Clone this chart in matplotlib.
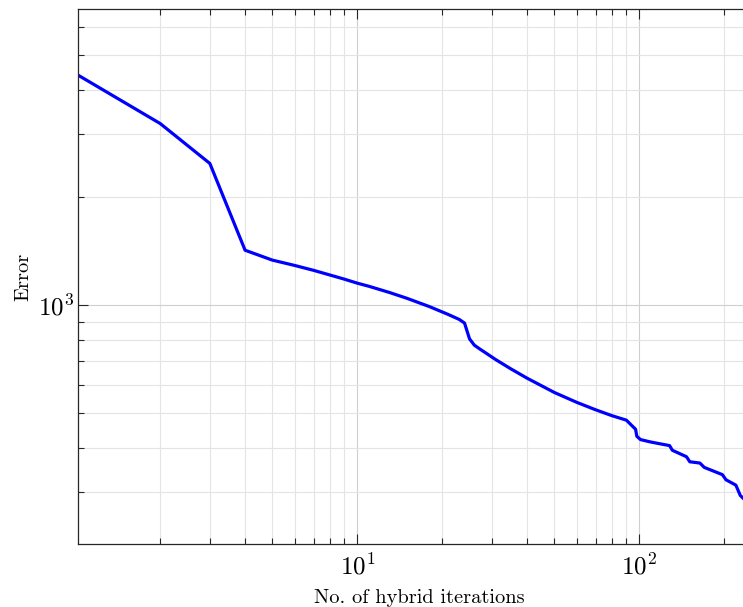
import matplotlib
matplotlib.use("Agg")
import matplotlib.pyplot as plt
from matplotlib.ticker import FixedLocator, FixedFormatter, NullFormatter, LogLocator

plt.rcParams['font.family'] = ['cmr10', 'DejaVu Serif']
plt.rcParams['mathtext.fontset'] = 'cm'
plt.rcParams['axes.unicode_minus'] = False
plt.rcParams['axes.formatter.use_mathtext'] = True

# data
iterations = [1, 2, 3, 4, 5, 6, 7, 8, 9, 10, 11, 13, 15, 18, 21, 23, 24, 25, 26, 27,
              31, 35, 40, 50, 60, 70, 80, 90, 94, 97, 98, 101, 109, 116, 128, 131,
              147, 151, 164, 170, 197, 203, 220, 228, 233]
error = [4440, 3218, 2489, 1424, 1336, 1291, 1251, 1214, 1182, 1152, 1129, 1085, 1045,
         991, 942, 912, 891, 805, 773, 757, 704, 664, 625, 570, 535, 510, 491, 477,
         461, 450, 430, 421, 415, 411, 405, 393, 377, 365, 362, 352, 336, 325, 314,
         294, 289]

x_ticks = [10, 100]
x_tick_labels = [r'$10^{1}$', r'$10^{2}$']
y_ticks = [1000]
y_tick_labels = [r'$10^{3}$']

W, H = 743, 607
fig = plt.figure(figsize=(W / 100, H / 100), dpi=100)
left, right, top, bottom = 78, 760, 9.3, 544.3
ax = fig.add_axes([left / W, 1 - bottom / H, (right - left) / W, (bottom - top) / H])

ax.plot(iterations, error, color=(0, 0, 1), lw=2.3, solid_joinstyle='round')
ax.set_xscale('log')
ax.set_yscale('log')
ax.set_xlim(1.0223, 267.9)
ax.set_ylim(214.6, 6712)

ax.xaxis.set_major_locator(FixedLocator(x_ticks))
ax.xaxis.set_major_formatter(FixedFormatter(x_tick_labels))
ax.yaxis.set_major_locator(FixedLocator(y_ticks))
ax.yaxis.set_major_formatter(FixedFormatter(y_tick_labels))
ax.xaxis.set_minor_locator(LogLocator(base=10, subs=range(2, 10), numticks=20))
ax.yaxis.set_minor_locator(LogLocator(base=10, subs=range(2, 10), numticks=20))
ax.xaxis.set_minor_formatter(NullFormatter())
ax.yaxis.set_minor_formatter(NullFormatter())

ax.grid(True, which='major', color='#cfcfcf', lw=0.8)
ax.grid(True, which='minor', color='#e4e4e4', lw=0.8)
ax.set_axisbelow(True)

for s in ax.spines.values():
    s.set_color('#262626')
    s.set_linewidth(0.9)
ax.tick_params(which='both', direction='in', top=True, right=True, colors='#262626',
               width=0.8)
ax.tick_params(which='major', length=7, labelsize=18)
ax.tick_params(axis='x', which='major', pad=7)
ax.tick_params(axis='y', which='major', pad=3)
ax.tick_params(which='minor', length=4)
for lbl in ax.get_xticklabels() + ax.get_yticklabels():
    lbl.set_color('black')

ax.set_xlabel('No. of hybrid iterations', fontsize=14.7, labelpad=6.5)
ax.set_ylabel('Error', fontsize=14.7, labelpad=4)

fig.savefig('out.png', dpi=100)
